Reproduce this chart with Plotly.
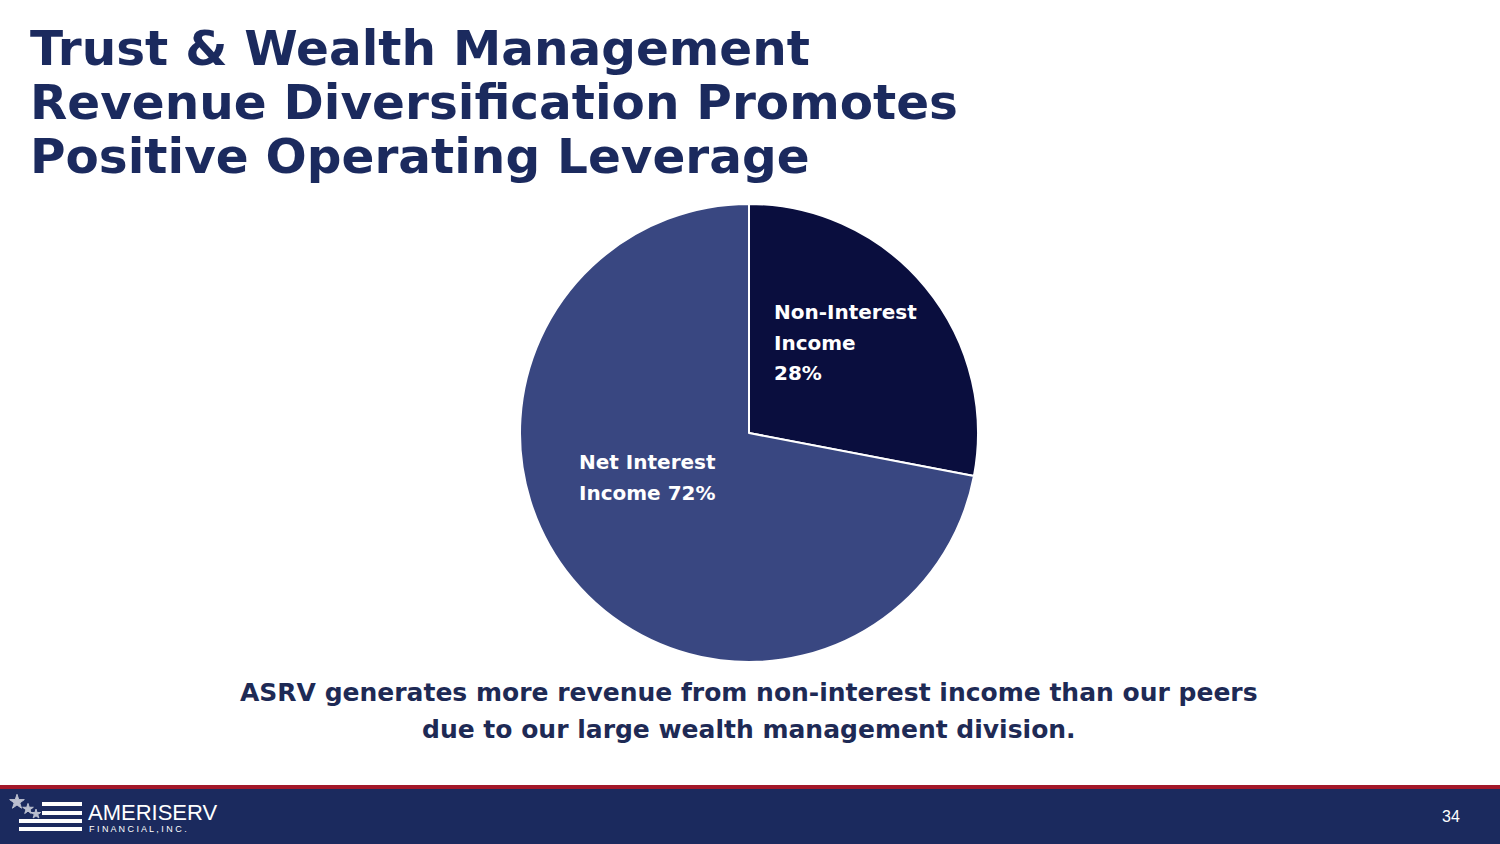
import plotly.graph_objects as go

# revenue mix data
categories = ["Non-Interest Income", "Net Interest Income"]
shares = [28, 72]
label_lines = [["Non-Interest", "Income", "28%"], ["Net Interest", "Income 72%"]]
slice_colors = ["#0a0e3e", "#394781"]

title_lines = ["Trust & Wealth Management",
               "Revenue Diversification Promotes",
               "Positive Operating Leverage"]
subtitle_lines = ["ASRV generates more revenue from non-interest income than our peers",
                  "due to our large wealth management division."]
page_number = "34"

W, H = 1500, 844
NAVY = "#1b2a5e"

fig = go.Figure()

# pie, starts at 12 o'clock going clockwise
fig.add_trace(go.Pie(
    labels=categories,
    values=shares,
    sort=False,
    direction="clockwise",
    rotation=0,
    marker=dict(colors=slice_colors, line=dict(color="white", width=2)),
    textinfo="none",
    hoverinfo="label+percent",
    showlegend=False,
    domain=dict(x=[520 / W, 978 / W], y=[1 - 662 / H, 1 - 204 / H]),
))

# invisible pixel-space axes for decorations
fig.add_trace(go.Scatter(
    x=[17, 28, 36], y=[802, 809, 814], mode="markers",
    marker=dict(symbol="star", size=[11, 8, 7], color="white"),
    hoverinfo="skip", showlegend=False,
))

annotations = []

# title
for i, line in enumerate(title_lines):
    annotations.append(dict(
        x=28, y=48 + i * 54, xref="x", yref="y", text=line, showarrow=False,
        xanchor="left", yanchor="middle",
        font=dict(family="DejaVu Sans", size=48.5, color=NAVY, weight="bold"),
    ))

# slice labels
label_pos = [(772, 312), (577, 462)]
for lines, (lx, ly) in zip(label_lines, label_pos):
    for j, ln in enumerate(lines):
        annotations.append(dict(
            x=lx, y=ly + j * 30.5, xref="x", yref="y", text=ln, showarrow=False,
            xanchor="left", yanchor="middle",
            font=dict(family="DejaVu Sans", size=20, color="white", weight="bold"),
        ))

# subtitle
for i, line in enumerate(subtitle_lines):
    annotations.append(dict(
        x=749, y=692 + i * 37, xref="x", yref="y", text=line, showarrow=False,
        xanchor="center", yanchor="middle",
        font=dict(family="DejaVu Sans", size=25, color="#1e2a55", weight="bold"),
    ))

# footer logo text + page number
annotations.append(dict(
    x=86, y=812, xref="x", yref="y", text="AMERISERV", showarrow=False,
    xanchor="left", yanchor="middle",
    font=dict(family="Liberation Sans", size=22, color="white"),
))
annotations.append(dict(
    x=87, y=829, xref="x", yref="y", text="F I N A N C I A L , I N C .", showarrow=False,
    xanchor="left", yanchor="middle",
    font=dict(family="Liberation Sans", size=9, color="white"),
))
annotations.append(dict(
    x=1451, y=816, xref="x", yref="y", text=page_number, showarrow=False,
    xanchor="center", yanchor="middle",
    font=dict(family="Liberation Sans", size=16, color="white"),
))

shapes = [
    dict(type="rect", xref="x", yref="y", x0=0, x1=W, y0=785, y1=789,
         fillcolor="#a3182a", line_width=0, layer="below"),
    dict(type="rect", xref="x", yref="y", x0=0, x1=W, y0=789, y1=H,
         fillcolor=NAVY, line_width=0, layer="below"),
]
# flag stripes
for (sx0, sy) in [(42, 804), (42, 813), (19, 821), (19, 829)]:
    shapes.append(dict(type="rect", xref="x", yref="y", x0=sx0, x1=82,
                       y0=sy - 2, y1=sy + 2, fillcolor="white", line_width=0))

fig.update_layout(
    width=W, height=H,
    margin=dict(l=0, r=0, t=0, b=0),
    paper_bgcolor="white", plot_bgcolor="rgba(0,0,0,0)",
    xaxis=dict(range=[0, W], visible=False, fixedrange=True),
    yaxis=dict(range=[H, 0], visible=False, fixedrange=True),
    annotations=annotations,
    shapes=shapes,
)

fig.write_html("out.html", config={"displayModeBar": False},
               post_script="document.body.style.margin='0';")
